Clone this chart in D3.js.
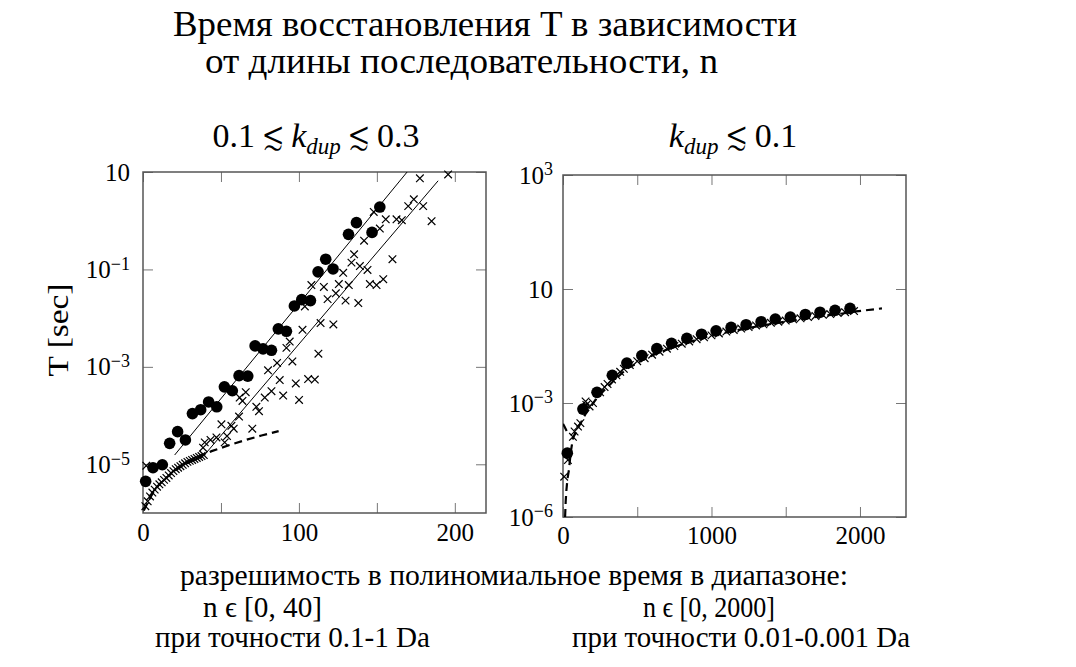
<!DOCTYPE html>
<html>
<head>
<meta charset="utf-8">
<script src="https://cdn.jsdelivr.net/npm/d3@7"></script>
</head>
<body style="margin:0;background:#fff">
<svg id="chart" width="1076" height="667" style="font-family:'Liberation Serif',serif"></svg>
<script>
var FONT = '"Liberation Serif", serif';
var MATH = 'FreeSerif, "Liberation Serif", serif';

// values: [n, log10(T in sec)]

// left panel, 0.1 <~ k_dup <~ 0.3
var leftDots = [[1.7,-5.35],[6.4,-5.07],[12.4,-5.01],[17.1,-4.57],[22.2,-4.33],[27.2,-4.50],[31.7,-3.96],
  [37.0,-3.88],[42.1,-3.72],[47.3,-3.82],[52.2,-3.41],[57.3,-3.49],[61.6,-3.18],[67.2,-3.19],[71.9,-2.57],
  [77.0,-2.63],[82.4,-2.66],[86.8,-2.22],[92.0,-2.27],[97.1,-1.75],[101.8,-1.62],[107.4,-1.64],[112.3,-1.05],
  [117.2,-0.79],[121.9,-0.99],[131.8,-0.28],[136.9,-0.04],[146.9,-0.24],[151.9,0.28]];

var leftCrossesSmall = [[1.5,-5.86],[3,-5.76],[4.5,-5.66],[6,-5.58],[7.5,-5.52],[9,-5.46],[10.5,-5.41],[12,-5.37],
  [13.5,-5.32],[15,-5.28],[16.5,-5.23],[18,-5.18],[19.5,-5.14],[21,-5.10],[22.5,-5.07],[24,-5.04],[25.5,-5.01],
  [27,-4.98],[28.5,-4.95],[30,-4.93],[31.5,-4.91],[33,-4.89],[34.5,-4.87],[36,-4.85],[37.5,-4.83],[39,-4.81]];

var leftCrosses = [[2.1,-5.03],[38.5,-4.66],[39.6,-4.55],[43.3,-4.50],[47.1,-4.45],[50.3,-4.18],[52.4,-4.55],
  [53.9,-4.42],[56.7,-4.21],[58.2,-4.27],[61.6,-4.02],[62,-3.63],[63.8,-3.70],[65.9,-3.52],[70.1,-4.27],
  [72.7,-3.82],[74.4,-3.91],[78.1,-3.63],[80.2,-3.07],[82.4,-3.50],[86,-2.92],[87.7,-3.27],[89.9,-3.59],
  [92,-2.61],[94.1,-2.48],[95.8,-2.89],[98,-3.34],[100.1,-3.68],[102.3,-2.24],[103.8,-1.76],[105.9,-3.25],
  [108,-1.32],[110.2,-3.26],[112.5,-2.73],[113.9,-2.10],[116,-1.36],[118.4,-1.61],[122.1,-2.13],[123.7,-1.49],
  [125.6,-1.30],[128.4,-1.07],[129.9,-1.64],[132,-1.32],[133.7,-0.86],[135.4,-0.69],[138.1,-1.69],[139.1,-0.93],
  [141.8,-0.41],[144,-1.01],[145.5,-1.30],[148,0.18],[149.8,-1.32],[151.9,-0.16],[154.1,-1.20],[155.7,0.03],
  [160,-0.79],[162.6,0.03],[166,0.01],[170.1,0.30],[173.7,0.44],[177.6,0.87],[179.7,0.30],[185.1,-0.01],[195.7,0.95]];

var leftFitUpper = [[20.3,-4.81],[169.4,1.0]];
var leftFitLower = [[40.7,-4.76],[189.3,0.82]];
var leftDashed = [[0.5,-5.95],[4,-5.72],[8,-5.50],[12,-5.36],[17,-5.22],[22,-5.10],[28,-4.98],[34,-4.88],
  [40,-4.79],[44,-4.73],[55,-4.61],[66,-4.50],[76,-4.41],[87,-4.32]];

// right panel, k_dup <~ 0.1
var rightDots = [[29,-4.32],[134,-3.16],[229,-2.72],[332,-2.27],[430,-1.95],[531,-1.75],[632,-1.57],[731,-1.43],
  [834,-1.30],[933,-1.19],[1031,-1.10],[1132,-1.01],[1233,-0.94],[1334,-0.86],[1430,-0.79],[1531,-0.74],
  [1632,-0.67],[1731,-0.61],[1832,-0.56],[1933,-0.51]];

var rightCrosses = [[8,-4.94],[33,-4.50],[67,-3.89],[78,-3.75],[101,-3.62],[117,-3.53],[152,-2.96],[157,-3.05],
  [179,-3.09],[202,-3.00],[250,-2.72],[280,-2.58],[300,-2.50],[330,-2.38],[360,-2.27],[385,-2.18],[410,-2.10],
  [450,-2.00],[500,-1.90],[550,-1.82],[600,-1.73],[650,-1.65],[700,-1.57],[750,-1.50],[800,-1.44],[850,-1.38],
  [900,-1.32],[950,-1.27],[1000,-1.22],[1050,-1.17],[1100,-1.12],[1150,-1.08],[1200,-1.04],[1250,-1.00],
  [1300,-0.96],[1350,-0.93],[1400,-0.89],[1450,-0.86],[1500,-0.83],[1550,-0.80],[1600,-0.77],[1650,-0.74],
  [1700,-0.71],[1750,-0.68],[1800,-0.66],[1850,-0.63],[1900,-0.61],[1960,-0.58]];

var rightDashed = [[14,-6.0],[18,-5.6],[23,-5.29],[30,-5.0],[40,-4.76],[52,-4.3],[67,-3.93],[90,-3.72],
  [112,-3.58],[150,-3.3],[180,-3.14],[230,-2.85],[292,-2.61],[350,-2.38],[430,-2.10],[530,-1.88],[630,-1.70],
  [730,-1.55],[830,-1.42],[930,-1.30],[1030,-1.20],[1130,-1.12],[1230,-1.04],[1330,-0.97],[1430,-0.90],
  [1530,-0.84],[1630,-0.78],[1730,-0.72],[1830,-0.67],[1930,-0.62],[1973,-0.59],[2148,-0.51]];
var rightDashedShort = [[0,-3.55],[10,-3.62],[25,-3.74],[45,-3.84]];

// axis ticks
var leftXTicks = [0, 50, 100, 150, 200];
var leftXLabels = [0, 100, 200];
var leftYTicks = [1e-5, 1e-3, 1e-1, 10];
var leftYExp = ['\u22125', '\u22123', '\u22121', ''];

var rightXTicks = [0, 500, 1000, 1500, 2000];
var rightXLabels = [0, 1000, 2000];
var rightYTicks = [1e-6, 1e-3, 1, 1e3];
var rightYExp = ['\u22126', '\u22123', '', '3'];

var svg = d3.select('#chart');

function drawPanel(p) {
  var x = d3.scaleLinear().domain(p.xDomain).range([p.left, p.right]);
  var y = d3.scaleLog().domain(p.yDomain).range([p.bottom, p.top]);
  var g = svg.append('g');

  var clipId = 'clip' + p.left;
  g.append('clipPath').attr('id', clipId).append('rect')
    .attr('x', p.left).attr('y', p.top).attr('width', p.right - p.left).attr('height', p.bottom - p.top);

  // ticks on all four sides, pointing inward
  g.append('g').attr('transform', 'translate(0,' + p.bottom + ')')
    .call(d3.axisBottom(x).tickValues(p.xTicks).tickSize(-10).tickPadding(p.xPad)
      .tickFormat(function(d) { return p.xLabels.indexOf(d) >= 0 ? d : ''; }));
  g.append('g').attr('transform', 'translate(0,' + p.top + ')')
    .call(d3.axisTop(x).tickValues(p.xTicks).tickSize(-10).tickFormat(''));
  var yl = g.append('g').attr('transform', 'translate(' + p.left + ',0)')
    .call(d3.axisLeft(y).tickValues(p.yTicks).tickSize(-10).tickPadding(p.yPad));
  g.append('g').attr('transform', 'translate(' + p.right + ',0)')
    .call(d3.axisRight(y).tickValues(p.yTicks).tickSize(-10).tickFormat(''));

  g.selectAll('.domain').remove();
  g.selectAll('.tick line').attr('stroke', '#777').attr('stroke-width', 1);
  g.selectAll('.tick text').style('font-family', FONT).style('font-size', '25px');

  // 10 with a superscript exponent
  yl.selectAll('.tick text').each(function(d, i) {
    var t = d3.select(this).text('');
    t.append('tspan').text('10');
    if (p.yExp[i]) t.append('tspan').attr('dy', '-0.45em').style('font-size', '18px').text(p.yExp[i]);
  });

  g.append('rect')
    .attr('x', p.left).attr('y', p.top).attr('width', p.right - p.left).attr('height', p.bottom - p.top)
    .attr('fill', 'none').attr('stroke', '#555').attr('stroke-width', 1.5);

  var line = d3.line().x(function(d) { return x(d[0]); }).y(function(d) { return y(Math.pow(10, d[1])); });
  var lines = g.append('g').attr('clip-path', 'url(#' + clipId + ')');

  p.solid.forEach(function(s) {
    lines.append('path').datum(s).attr('d', line)
      .attr('fill', 'none').attr('stroke', '#000').attr('stroke-width', 1);
  });
  p.dashed.forEach(function(s) {
    lines.append('path').datum(s).attr('d', line)
      .attr('fill', 'none').attr('stroke', '#000').attr('stroke-width', 2.2).attr('stroke-dasharray', '8,5');
  });

  var cs = 3.8;
  g.append('g').selectAll('path.cross').data(p.crosses).enter().append('path')
    .attr('class', 'cross')
    .attr('d', 'M' + (-cs) + ',' + (-cs) + 'L' + cs + ',' + cs + 'M' + (-cs) + ',' + cs + 'L' + cs + ',' + (-cs))
    .attr('transform', function(d) { return 'translate(' + x(d[0]) + ',' + y(Math.pow(10, d[1])) + ')'; })
    .attr('stroke', '#000').attr('stroke-width', 1.2).attr('fill', 'none');

  g.append('g').selectAll('circle').data(p.dots).enter().append('circle')
    .attr('cx', function(d) { return x(d[0]); })
    .attr('cy', function(d) { return y(Math.pow(10, d[1])); })
    .attr('r', 5.8).attr('fill', '#000');
}

drawPanel({
  left: 143, right: 486, top: 172, bottom: 513,
  xDomain: [0, 220], yDomain: [1e-6, 10],
  xTicks: leftXTicks, xLabels: leftXLabels, yTicks: leftYTicks, yExp: leftYExp,
  xPad: 10, yPad: 13,
  solid: [leftFitUpper, leftFitLower], dashed: [leftDashed],
  crosses: leftCrossesSmall.concat(leftCrosses), dots: leftDots
});

drawPanel({
  left: 563, right: 906, top: 175, bottom: 517,
  xDomain: [0, 2310], yDomain: [1e-6, 1e3],
  xTicks: rightXTicks, xLabels: rightXLabels, yTicks: rightYTicks, yExp: rightYExp,
  xPad: 9, yPad: 10,
  solid: [], dashed: [rightDashed, rightDashedShort],
  crosses: rightCrosses, dots: rightDots
});

// titles and captions
function label(txt, cx, yb, size, width) {
  return svg.append('text').attr('x', cx).attr('y', yb).attr('text-anchor', 'middle')
    .style('font-family', FONT).style('font-size', size + 'px')
    .attr('textLength', width).attr('lengthAdjust', 'spacingAndGlyphs')
    .text(txt);
}
label('Время восстановления T в зависимости', 485, 36, 36, 624);
label('от длины последовательности, n', 461.5, 73, 36, 513);
label('разрешимость в полиномиальное время в диапазоне:', 514, 585, 29, 668);
label('n \u03f5 [0, 40]', 262.5, 617, 29, 119);
label('при точности 0.1-1 Da', 292.5, 647, 29, 275);
label('n \u03f5 [0, 2000]', 709, 617, 29, 132);
label('при точности 0.01-0.001 Da', 741, 647, 29, 338);

svg.append('text').attr('transform', 'translate(68,330) rotate(-90)').attr('text-anchor', 'middle')
  .style('font-family', FONT).style('font-size', '29px')
  .attr('textLength', 93).attr('lengthAdjust', 'spacingAndGlyphs')
  .text('T [sec]');

function kdup(t) {
  t.append('tspan').style('font-style', 'italic').text('k');
  t.append('tspan').style('font-style', 'italic').style('font-size', '23px').attr('dy', 7).text('dup');
}
function lesssim(t, dy) {
  t.append('tspan').attr('dy', dy).text(' ');
  t.append('tspan').style('font-family', MATH).text('\u2272');
  t.append('tspan').text(' ');
}
var s1 = svg.append('text').attr('x', 316).attr('y', 147).attr('text-anchor', 'middle')
  .style('font-family', FONT).style('font-size', '34px');
s1.append('tspan').text('0.1');
lesssim(s1, 0);
kdup(s1);
lesssim(s1, -7);
s1.append('tspan').text('0.3');

var s2 = svg.append('text').attr('x', 733).attr('y', 147).attr('text-anchor', 'middle')
  .style('font-family', FONT).style('font-size', '34px');
kdup(s2);
lesssim(s2, -7);
s2.append('tspan').text('0.1');
</script>
</body>
</html>
